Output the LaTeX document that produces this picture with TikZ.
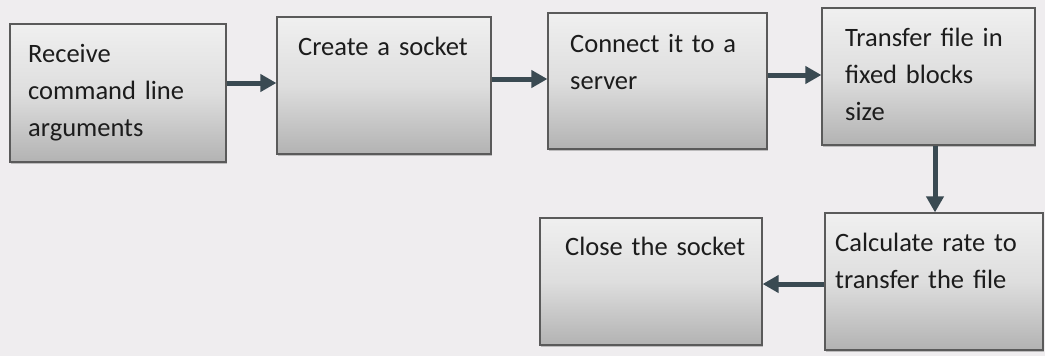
\documentclass[tikz,border=0pt]{standalone}
\usepackage{fontspec}
\setmainfont{Carlito}
\usetikzlibrary{arrows.meta,shadows,calc}
\definecolor{paper}{HTML}{EFEDEF}
\definecolor{frame}{HTML}{5A5A5A}
\definecolor{arrowcol}{HTML}{3A4A52}
\definecolor{ink}{HTML}{1C1C1C}
\tikzset{
  stepbox/.style={draw=frame, line width=1.2pt, rectangle,
    top color=gray!12, bottom color=gray!60, middle color=gray!26,
    drop shadow={shadow xshift=1.2pt, shadow yshift=-2pt, opacity=0.45},
    inner sep=0pt},
  steptext/.style={anchor=base west, inner sep=0pt, text width=210pt,
    align=left, text=ink, font=\fontsize{26.5}{37}\selectfont},
  flow/.style={draw=arrowcol, line width=5pt,
    -{Triangle[length=16pt,width=17pt]}}
}
\begin{document}
\begin{tikzpicture}[x=1pt,y=-1pt]
  % page
  \fill[paper] (0,0) rectangle (1045,356);
  \useasboundingbox (0,0) rectangle (1045,356);

  % boxes
  \node[stepbox, minimum width=216pt, minimum height=138pt] (b1) at (118,93) {};
  \node[stepbox, minimum width=214pt, minimum height=137pt] (b2) at (384,85.5) {};
  \node[stepbox, minimum width=219pt, minimum height=136pt] (b3) at (657.5,81) {};
  \node[stepbox, minimum width=213pt, minimum height=137pt] (b4) at (928.5,76.5) {};
  \node[stepbox, minimum width=218pt, minimum height=137pt] (b5) at (934,281.5) {};
  \node[stepbox, minimum width=222pt, minimum height=127pt] (b6) at (651,281.5) {};

  % labels
  \node[steptext] (t1) at (28,62)  {Receive\\command line\\arguments};
  \node[steptext] (t2) at (298,55) {Create a socket};
  \node[steptext] (t3) at (570,52) {Connect it to a\\server};
  \node[steptext] (t4) at (845,46) {Transfer file in\\fixed blocks\\size};
  \node[steptext] (t5) at (835,251) {Calculate rate to\\transfer the file};
  \node[steptext] (t6) at (565,255) {Close the socket};

  % connectors
  \draw[flow] ([yshift=10pt]b1.east) -- ([yshift=2.5pt]b2.west);
  \draw[flow] ([yshift=6.5pt]b2.east) -- ([yshift=2pt]b3.west);
  \draw[flow] ([yshift=6pt]b3.east) -- ([yshift=1.5pt]b4.west);
  \draw[flow] ([xshift=6.5pt]b4.south) -- ([xshift=1pt]b5.north);
  \draw[flow] ([yshift=-2.5pt]b5.west) -- ([yshift=-2.5pt]b6.east);
\end{tikzpicture}
\end{document}
